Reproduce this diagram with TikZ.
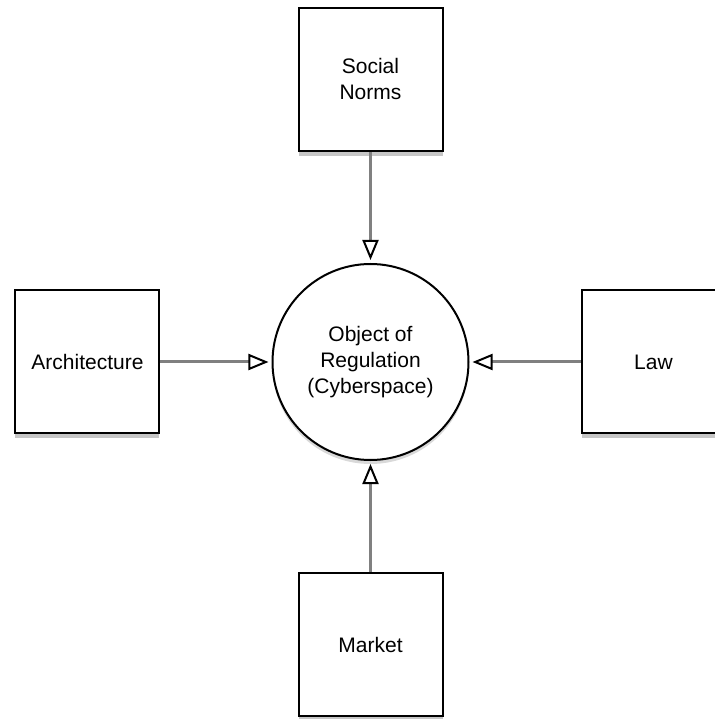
\documentclass[tikz,border=0pt]{standalone}
\usepackage{fontspec}
\setmainfont{Liberation Sans}
\usetikzlibrary{positioning,arrows.meta,shadows}

\begin{document}
\begin{tikzpicture}[x=1pt,y=1pt,node distance=111pt,
		every node/.style={font=\fontsize{21}{26}\selectfont,align=center},
		force/.style={rectangle,draw=black,line width=2pt,fill=white,
			minimum width=144pt,minimum height=143pt,
			drop shadow={opacity=0.45,shadow xshift=0pt,shadow yshift=-5pt}},
		object/.style={circle,draw=black,line width=2pt,fill=white,minimum size=196pt,
			drop shadow={opacity=0.3,shadow xshift=0pt,shadow yshift=-4pt}},
		pull/.style={draw=gray,line width=3pt,shorten >=3pt,
			-{Triangle[length=20pt,width=16pt,line width=2pt,color=black,fill=white]}}
		]
		\useasboundingbox (-370.5,-357) rectangle (343.5,362);
		
		\node[object] (obj) at (0,0) {Object of\\Regulation\\(Cyberspace)};
		\node[force,above=of obj] (norms) {Social\\Norms};
		\node[force,left=of obj] (arch) {Architecture};
		\node[force,right=of obj] (law) {Law};
		\node[force,below=of obj] (market) {Market};
		
		\draw[pull] (norms) -- (obj);
		\draw[pull] (arch) -- (obj);
		\draw[pull] (law) -- (obj);
		\draw[pull] (market) -- (obj);
		\end{tikzpicture}
\end{document}
